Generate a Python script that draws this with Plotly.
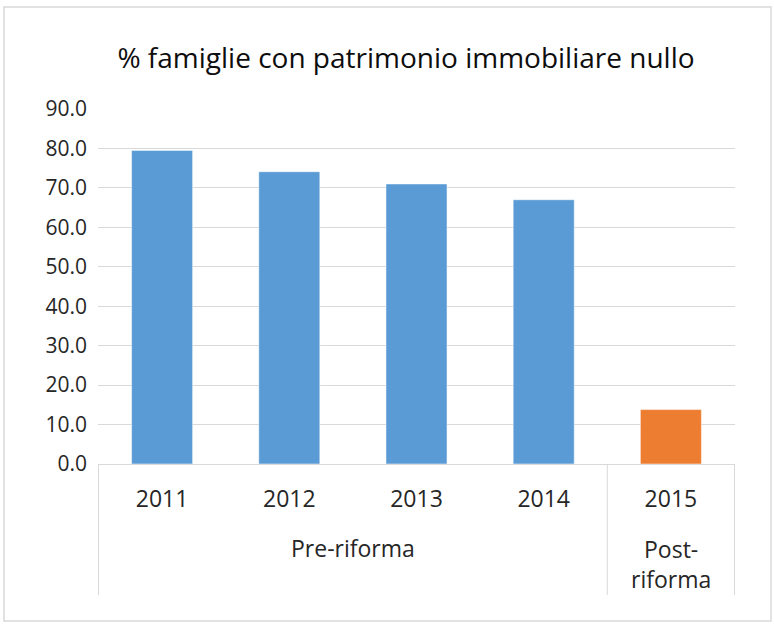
import plotly.graph_objects as go

years = ["2011", "2012", "2013", "2014", "2015"]
values = [79.5, 74.1, 71.0, 67.0, 13.8]
groups = ["Pre-riforma", "Pre-riforma", "Pre-riforma", "Pre-riforma", "Post-<br>riforma"]
colors = ["#5b9bd5", "#5b9bd5", "#5b9bd5", "#5b9bd5", "#ed7d31"]
y_ticks = [0, 10, 20, 30, 40, 50, 60, 70, 80, 90]

FONT = "Open Sans"
TXT = "#262626"

fig = go.Figure(go.Bar(
    x=years, y=values,
    marker=dict(color=colors, line=dict(color="rgba(255,255,255,0.5)", width=1)),
))

shapes = []
annotations = []
idx = 0
bounds = [-0.5]
while idx < len(groups):
    g = groups[idx]
    j = idx
    while j < len(groups) and groups[j] == g:
        j += 1
    center = (idx + j - 1) / 2
    annotations.append(dict(
        x=center, xref="x", y=-0.2366 if "<br>" not in g else -0.2817, yref="paper",
        text=g, showarrow=False, font=dict(family=FONT, size=23, color=TXT),
        yanchor="middle", xanchor="center"))
    bounds.append(j - 0.5)
    idx = j
for b in bounds:
    shapes.append(dict(type="line", xref="x", yref="paper", x0=b, x1=b, y0=0, y1=-0.369,
                       line=dict(color="#d9d9d9", width=1)))
shapes.append(dict(type="rect", xref="paper", yref="paper", x0=-0.1476, x1=1.0565, y0=-0.442, y1=1.287,
                   line=dict(color="#d9d9d9", width=1.5)))

fig.update_layout(
    width=774, height=625,
    margin=dict(l=98, r=39, t=109, b=161),
    paper_bgcolor="white", plot_bgcolor="white",
    bargap=0.52,
    showlegend=False,
    title=dict(text="% famiglie con patrimonio immobiliare nullo", x=406/774, xref="container",
               xanchor="center", y=1-58/625, yanchor="middle",
               font=dict(family=FONT, size=28, color="#0d0d0d")),
    shapes=shapes, annotations=annotations,
    font=dict(family=FONT, color=TXT),
)
fig.update_xaxes(type="category", showgrid=False, showline=True, linecolor="#d9d9d9", linewidth=1,
                 ticks="", tickfont=dict(family=FONT, size=23, color=TXT), ticklabelstandoff=14)
fig.update_yaxes(range=[0, 90], tickvals=y_ticks, ticktext=[f"{v:.1f}" for v in y_ticks],
                 showgrid=True, gridcolor="#d9d9d9", gridwidth=1, zeroline=False, showline=False,
                 ticks="", tickfont=dict(family=FONT, size=21, color=TXT), ticklabelstandoff=10)

fig.write_html("out.html", config={"displayModeBar": False},
               post_script="document.body.style.margin='0';")
